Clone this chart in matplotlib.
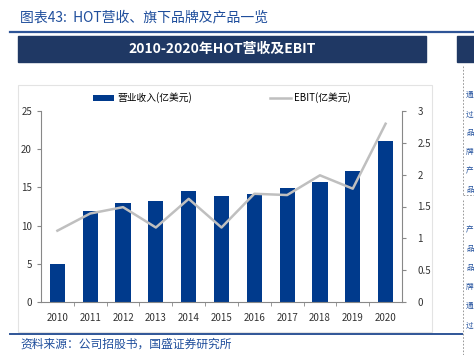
import matplotlib.pyplot as plt
from matplotlib.patches import Rectangle
from matplotlib.lines import Line2D

plt.rcParams['font.family'] = ['Noto Sans CJK SC', 'DejaVu Sans']

years = ['2010', '2011', '2012', '2013', '2014', '2015', '2016', '2017', '2018', '2019', '2020']
revenue = [5.0, 11.9, 13.0, 13.25, 14.5, 13.9, 14.1, 14.9, 15.75, 17.2, 21.05]
ebit = [1.12, 1.39, 1.49, 1.17, 1.62, 1.17, 1.70, 1.68, 1.99, 1.78, 2.80]

W, H = 474, 355
BAR_C = '#003A8C'
NAVY = '#1F3864'
LINE_C = '#BFBFBF'
TXT_BLUE = '#1F4E9C'


def px(x0, y0, x1, y1):
    # pixel box (top-left origin) -> figure fraction rect
    return [x0 / W, 1 - y1 / H, (x1 - x0) / W, (y1 - y0) / H]


fig = plt.figure(figsize=(W / 100, H / 100), dpi=100)
fig.patch.set_facecolor('white')

# page decorations
fig.text(20 / W, 1 - 17 / H, '图表43:  HOT营收、旗下品牌及产品一览', color=TXT_BLUE,
         fontsize=10, va='center', ha='left', style='italic')
fig.add_artist(Line2D([10 / W, 1], [1 - 32 / H] * 2, color='#2F5597', lw=1.6))
fig.add_artist(Rectangle((18 / W, 1 - 62 / H), (426 - 18) / W, 26 / H, color=NAVY))
fig.add_artist(Rectangle((457 / W, 1 - 62 / H), 20 / W, 26 / H, color=NAVY))
fig.text(222 / W, 1 - 49 / H, '2010-2020年HOT营收及EBIT', color='white', fontsize=10,
         fontweight='bold', ha='center', va='center')
fig.add_artist(Rectangle((18 / W, 1 - 332 / H), (432 - 18) / W, (332 - 85) / H,
                         fill=False, ec='#E3E3E3', lw=0.8))
fig.add_artist(Line2D([10 / W, 462 / W], [1 - 334 / H] * 2, color='#2F5597', lw=1.4))
fig.text(20 / W, 1 - 344 / H, '资料来源：公司招股书，国盛证券研究所', color=TXT_BLUE,
         fontsize=8.5, va='center', ha='left', style='italic')
# right side dashed box fragment
fig.add_artist(Line2D([463 / W] * 2, [1 - 66 / H, 1 - 195 / H], color='#888888', lw=0.6, ls=(0, (2, 2))))
fig.add_artist(Line2D([463 / W, 1], [1 - 195 / H] * 2, color='#888888', lw=0.6, ls=(0, (2, 2))))
fig.add_artist(Line2D([463 / W] * 2, [1 - 200 / H, 0], color='#888888', lw=0.6, ls=(0, (2, 2))))
for i, ch in enumerate('通过品牌产品'):
    fig.text(466 / W, 1 - (95 + i * 19) / H, ch, color=TXT_BLUE, fontsize=5.5, va='center')
for i, ch in enumerate('产品品牌通过'):
    fig.text(466 / W, 1 - (230 + i * 19) / H, ch, color=TXT_BLUE, fontsize=5.5, va='center')

# chart
ax = fig.add_axes(px(41, 111, 402, 302))
x = list(range(len(years)))
bars = ax.bar(x, revenue, width=0.46, color=BAR_C, zorder=2, label='营业收入(亿美元)')
ax.set_xlim(-0.5, len(years) - 0.5)
ax.set_ylim(0, 25)
ax.set_yticks([0, 5, 10, 15, 20, 25])
ax.set_xticks(x)
ax.set_xticklabels(years)
ax.set_xticks([i + 0.5 for i in x[:-1]], minor=True)
ax.tick_params(axis='x', which='major', length=0, pad=8, labelsize=7, colors='#333333')
ax.tick_params(axis='x', which='minor', length=3, color='#888888')
ax.tick_params(axis='y', length=3, color='#888888', labelsize=7, labelcolor='#333333')
for s in ['top', 'right']:
    ax.spines[s].set_visible(False)
for s in ['left', 'bottom']:
    ax.spines[s].set_color('#888888')
    ax.spines[s].set_linewidth(0.8)

ax2 = ax.twinx()
line, = ax2.plot(x, ebit, color=LINE_C, lw=1.8, zorder=3, label='EBIT(亿美元)')
ax2.set_ylim(0, 3)
ax2.set_yticks([0, 0.5, 1, 1.5, 2, 2.5, 3])
ax2.set_yticklabels(['0', '0.5', '1', '1.5', '2', '2.5', '3'])
ax2.tick_params(axis='y', length=3, color='#888888', labelsize=7, labelcolor='#333333', pad=8)
for s in ['top', 'left', 'bottom']:
    ax2.spines[s].set_visible(False)
ax2.spines['right'].set_color('#888888')
ax2.spines['right'].set_linewidth(0.8)

fig.legend([bars, line], ['营业收入(亿美元)', 'EBIT(亿美元)'], loc='center',
           bbox_to_anchor=(222 / W, 1 - 98 / H), ncol=2, frameon=False, fontsize=7,
           handlelength=2.2, columnspacing=8, handletextpad=0.3)

fig.savefig('out.png', dpi=100)
